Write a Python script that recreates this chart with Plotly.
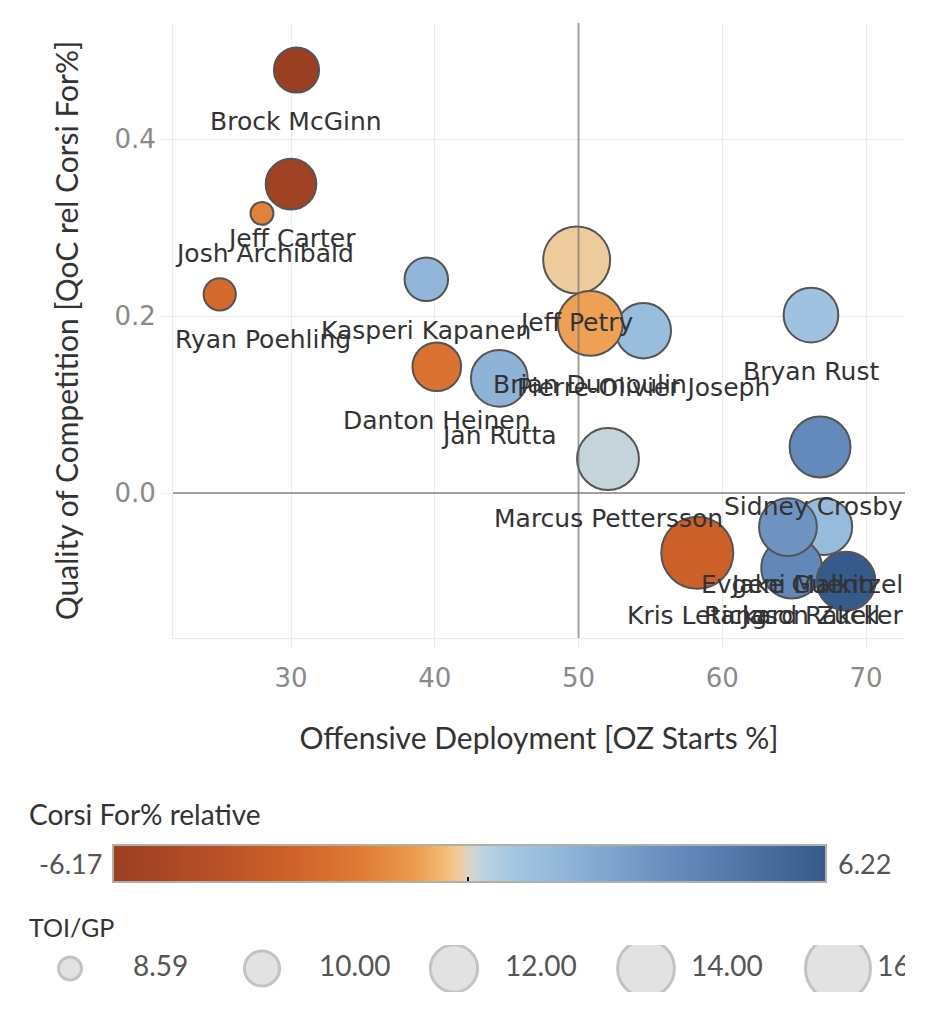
import math
import plotly.graph_objects as go

# ---------------- data ----------------
players = ["Brock McGinn", "Jeff Carter", "Josh Archibald", "Ryan Poehling",
           "Kasperi Kapanen", "Danton Heinen", "Jan Rutta", "Jeff Petry",
           "Pierre-Olivier Joseph", "Brian Dumoulin", "Marcus Pettersson",
           "Bryan Rust", "Sidney Crosby", "Jake Guentzel", "Rickard Rakell",
           "Evgeni Malkin", "Jason Zucker", "Kris Letang"]
oz_starts = [30.38, 30.00, 27.98, 25.04, 39.41, 40.14, 44.49, 49.87,
             54.51, 50.82, 52.05, 66.17, 66.80, 67.06, 64.83, 64.57, 68.61, 58.26]
qoc = [0.478, 0.349, 0.316, 0.2245, 0.2415, 0.1427, 0.1296, 0.2633,
       0.1834, 0.1917, 0.0384, 0.2011, 0.052, -0.038, -0.0847, -0.0384, -0.0997, -0.0675]
cf_rel = [-6.17, -5.85, -1.7, -2.7, 1.64, -2.3, 1.76, -0.16,
          1.27, -0.84, 0.2, 1.0, 3.7, 1.39, 3.8, 3.2, 6.22, -3.2]
toi_gp = [11.61, 12.66, 8.59, 9.61, 11.32, 12.26, 13.98, 16.50,
          13.66, 15.96, 15.19, 13.52, 14.94, 13.98, 14.94, 14.21, 14.45, 17.91]
toi_legend = [8.59, 10.00, 12.00, 14.00, 16.00]

x_ticks = [30, 40, 50, 60, 70]
y_ticks = [0.0, 0.2, 0.4]

# label placement style: 'c' centered under bubble, 'l' clamp left, 'r' clamp right
label_align = ["c", "c", "l", "l", "c", "c", "c", "c",
               "c", "c", "c", "c", "r", "r", "c", "c", "r", "c"]

# ---------------- layout constants ----------------
W, H = 934, 1024
PL, PR, PT, PB = 173, 905, 23, 638       # plot area in px
X_RANGE = [21.79, 72.71]
Y_RANGE = [-0.1638, 0.5311]
px_per_y = (PB - PT) / (Y_RANGE[1] - Y_RANGE[0])

colorscale = [
    [0.00, "#9b3f23"], [0.12, "#b34d26"], [0.25, "#cf6129"], [0.35, "#e07c36"],
    [0.42, "#ec9a4c"], [0.465, "#f3bb74"], [0.485, "#eecb9c"], [0.50, "#d9d5cc"],
    [0.52, "#bcd3e0"], [0.56, "#a3c7e2"], [0.65, "#8cb1d6"], [0.80, "#6388ba"],
    [1.00, "#365a89"]]


def diam(t):
    return 2 * math.sqrt(132 + 125 * (t - 8.59))


sizes = [diam(t) for t in toi_gp]
cmin, cmax = min(cf_rel), max(cf_rel)

fig = go.Figure()

fig.add_trace(go.Scatter(
    x=oz_starts, y=qoc, mode="markers", text=players,
    marker=dict(size=sizes, sizemode="diameter", color=cf_rel,
                colorscale=colorscale, cmin=cmin, cmax=cmax,
                line=dict(color="#555555", width=2), opacity=1,
                colorbar=dict(orientation="h", x=113 / W, xanchor="left",
                              y=1 - 845 / H, yanchor="top", len=713,
                              lenmode="pixels", thickness=37,
                              outlinewidth=2, outlinecolor="#b3aea6",
                              xpad=0, ypad=0, tickvals=[0], ticks="inside",
                              ticklen=6, tickwidth=2, tickcolor="#111111",
                              showticklabels=False)),
    showlegend=False, hoverinfo="text", cliponaxis=False))

# size legend
idx = list(range(len(toi_legend)))
fig.add_trace(go.Scatter(
    x=idx, y=[0] * len(idx), mode="markers", xaxis="x2", yaxis="y2",
    marker=dict(size=[diam(t) for t in toi_legend], color="#d6d6d6",
                line=dict(color="#ababab", width=3)),
    showlegend=False, hoverinfo="skip", cliponaxis=True))
fig.add_trace(go.Scatter(
    x=[0.328 + 0.969 * i for i in idx], y=[0] * len(idx), mode="text",
    xaxis="x2", yaxis="y2",
    text=[f"{t:.2f}" for t in toi_legend], textposition="middle right",
    textfont=dict(family="Lato", size=28, color="#555555"),
    showlegend=False, hoverinfo="skip", cliponaxis=True))

# labels
annotations = []
for name, xv, yv, s, al in zip(players, oz_starts, qoc, sizes, label_align):
    ylab = yv - (s / 2 + 29) / px_per_y
    ymin_lab = Y_RANGE[0] + 23 / px_per_y
    ylab = max(ylab, ymin_lab)
    if al == "l":
        xa, xanc = X_RANGE[0], "left"
    elif al == "r":
        xa, xanc = X_RANGE[1], "right"
    else:
        xa, xanc = xv, "center"
    annotations.append(dict(x=xa, y=ylab, xref="x", yref="y", text=name,
                            showarrow=False, xanchor=xanc, yanchor="middle",
                            font=dict(family="DejaVu Sans", size=25, color="#333333")))

annotations += [
    dict(x=27 / W, y=1 - 814 / H, xref="paper", yref="paper", text="Corsi For% relative",
         showarrow=False, xanchor="left", yanchor="middle",
         font=dict(family="Lato", size=28, color="#333333")),
    dict(x=104 / W, y=1 - 863 / H, xref="paper", yref="paper", text=f"{cmin:.2f}",
         showarrow=False, xanchor="right", yanchor="middle",
         font=dict(family="Lato", size=27, color="#555555")),
    dict(x=836 / W, y=1 - 863 / H, xref="paper", yref="paper", text=f"{cmax:.2f}",
         showarrow=False, xanchor="left", yanchor="middle",
         font=dict(family="Lato", size=27, color="#555555")),
    dict(x=27 / W, y=1 - 927 / H, xref="paper", yref="paper", text="TOI/GP",
         showarrow=False, xanchor="left", yanchor="middle",
         font=dict(family="Lato", size=25, color="#333333")),
]

ref_color = "rgba(105,105,105,0.6)"
shapes = [
    dict(type="line", xref="x", yref="y", x0=50, x1=50, y0=Y_RANGE[0], y1=Y_RANGE[1],
         line=dict(color=ref_color, width=2), layer="above"),
    dict(type="line", xref="x", yref="y", x0=X_RANGE[0], x1=X_RANGE[1], y0=0, y1=0,
         line=dict(color=ref_color, width=2), layer="above"),
]

grid = "#ececec"
fig.update_layout(
    width=W, height=H, margin=dict(l=0, r=0, t=0, b=0),
    paper_bgcolor="white", plot_bgcolor="white",
    xaxis=dict(domain=[PL / W, PR / W], range=X_RANGE, tickvals=x_ticks,
               showgrid=True, gridcolor=grid, gridwidth=1, zeroline=False,
               showline=True, linecolor=grid, linewidth=1,
               ticks="outside", ticklen=10, tickcolor=grid, ticklabelstandoff=7,
               tickfont=dict(family="DejaVu Sans", size=26, color="#8a8a8a"),
               title=dict(text="Offensive Deployment [OZ Starts %]", standoff=35,
                          font=dict(family="Lato", size=30, color="#333333"))),
    yaxis=dict(domain=[1 - PB / H, 1 - PT / H], range=Y_RANGE, tickvals=y_ticks,
               tickformat=".1f",
               showgrid=True, gridcolor=grid, gridwidth=1, zeroline=False,
               showline=True, linecolor=grid, linewidth=1,
               ticks="outside", ticklen=11, tickcolor=grid,
               tickfont=dict(family="DejaVu Sans", size=26, color="#8a8a8a"),
               title=dict(text="Quality of Competition [QoC rel Corsi For%]", standoff=26,
                          font=dict(family="Lato", size=30, color="#333333"))),
    xaxis2=dict(domain=[40 / W, 905 / W], range=[-0.15625, 4.349], visible=False,
                anchor="y2", fixedrange=True),
    yaxis2=dict(domain=[1 - 992 / H, 1 - 945 / H], range=[-1, 1], visible=False,
                anchor="x2", fixedrange=True),
    annotations=annotations, shapes=shapes,
)

fig.write_html("out.html")
